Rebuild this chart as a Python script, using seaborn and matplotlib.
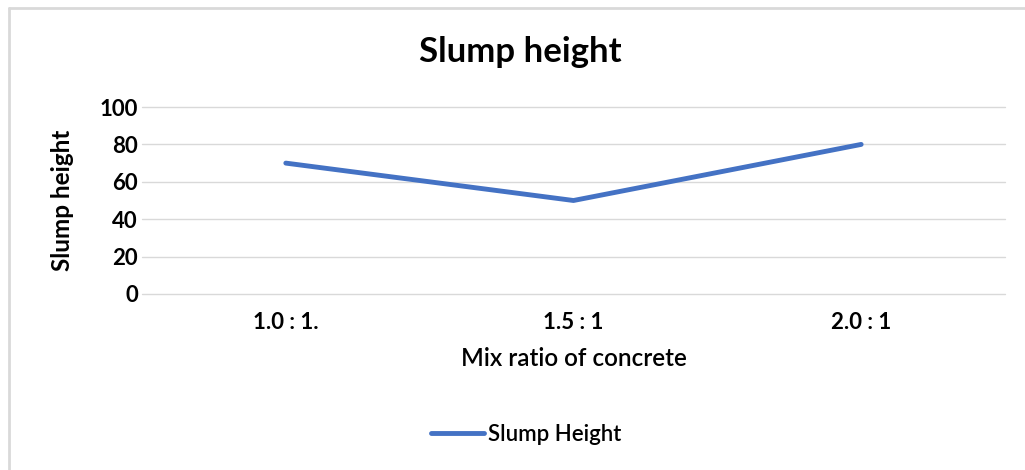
import matplotlib
matplotlib.use("Agg")
import matplotlib.pyplot as plt
import seaborn as sns
import pandas as pd
from matplotlib.lines import Line2D

# Data
mix_ratios = ["1.0 : 1.", "1.5 : 1", "2.0 : 1"]
slump_height = [70, 50, 80]
y_ticks = [0, 20, 40, 60, 80, 100]
series_name = "Slump Height"

df = pd.DataFrame({"ratio": mix_ratios, "slump": slump_height})

sns.set_theme(style="white")
plt.rcParams["font.family"] = ["Lato", "DejaVu Sans"]

fig = plt.figure(figsize=(10.25, 4.7), dpi=100)
ax = fig.add_axes([0.1385, 0.3745, 0.842, 0.3978])

line_color = "#4472C4"
sns.lineplot(data=df, x="ratio", y="slump", ax=ax, color=line_color,
             linewidth=3.5, sort=False, legend=False,
             solid_capstyle="round", solid_joinstyle="round", zorder=3)

ax.set_xlim(-0.5, 2.5)
ax.set_ylim(0, 100)
ax.set_xticks(range(len(mix_ratios)))
ax.set_xticklabels(mix_ratios)
ax.set_yticks(y_ticks)
ax.set_yticklabels([str(v) for v in y_ticks])
ax.grid(axis="y", color="#D9D9D9", linewidth=1.0)
ax.grid(axis="x", visible=False)
for gl in ax.get_ygridlines():
    gl.set_clip_on(False)
for s in ax.spines.values():
    s.set_visible(False)
ax.tick_params(axis="both", length=0, labelsize=16, labelcolor="#000000")
ax.tick_params(axis="y", pad=3)
ax.tick_params(axis="x", pad=13)

ax.set_xlabel("Mix ratio of concrete", fontsize=17.5, fontweight="semibold",
              color="#000000", labelpad=10)
ax.set_ylabel("Slump height", fontsize=17.5, fontweight="bold", color="#000000", labelpad=18)

fig.text(0.508, 0.889, "Slump height", ha="center", va="center",
         fontsize=25, fontweight="bold", color="#000000")

# Legend
handle = Line2D([0], [0], color=line_color, linewidth=3.5, solid_capstyle="round")
leg = fig.legend([handle], [series_name], loc="center", bbox_to_anchor=(0.513, 0.075),
                 frameon=False, prop={"size": 16, "weight": "semibold"},
                 handlelength=2.4, handletextpad=0.15)
for t in leg.get_texts():
    t.set_color("#000000")

# Chart-area border (top and left edges)
fig.add_artist(Line2D([0.0087, 1.0], [1 - 8 / 470, 1 - 8 / 470], color="#D9D9D9",
                      linewidth=2.0, transform=fig.transFigure))
fig.add_artist(Line2D([0.0087, 0.0087], [0.0, 1 - 8 / 470], color="#D9D9D9",
                      linewidth=2.0, transform=fig.transFigure))

# Bold tick labels on both axes
fig.canvas.draw()
for lab in ax.get_xticklabels() + ax.get_yticklabels():
    lab.set_fontweight("bold")

fig.savefig("out.png", dpi=100, facecolor="white")
